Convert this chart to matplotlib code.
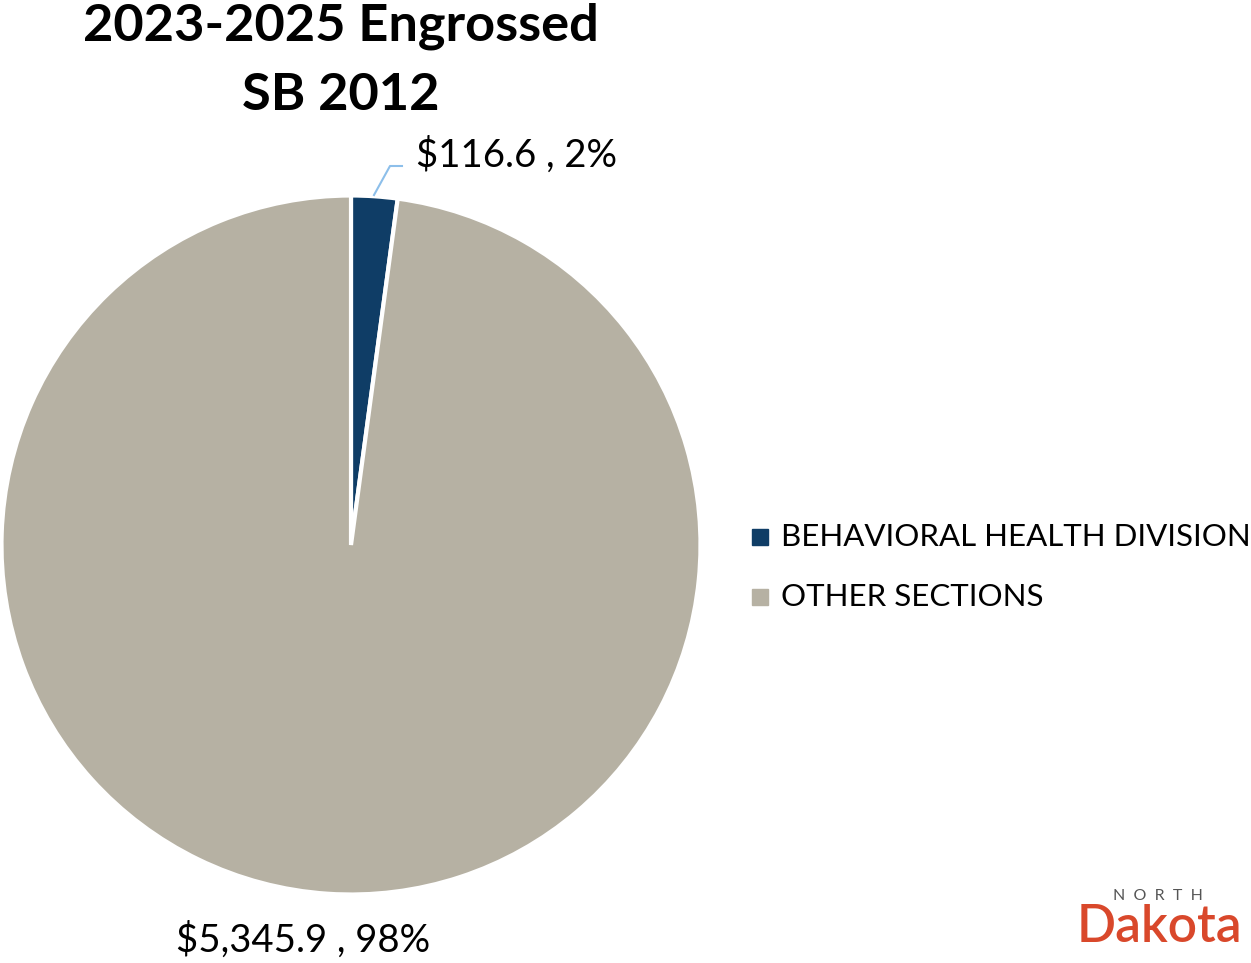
import matplotlib
matplotlib.use("Agg")
import matplotlib.pyplot as plt

categories = ["BEHAVIORAL HEALTH DIVISION", "OTHER SECTIONS"]
values = [116.6, 5345.9]
pct_labels = ["2%", "98%"]
colors = ["#0f3d66", "#b6b1a3"]
title = "2023-2025 Engrossed\nSB 2012"

plt.rcParams['font.family'] = ['Lato', 'DejaVu Sans']

W, H = 1251, 963
fig = plt.figure(figsize=(W / 100, H / 100), dpi=100)
ax = fig.add_axes([0, 0, 1, 1])
cx, cy, r = 351, H - 545, 349.5
wedges, _ = ax.pie(values, colors=colors, startangle=90, counterclock=False,
                   center=(cx, cy), radius=r,
                   wedgeprops=dict(edgecolor="white", linewidth=3))
ax.set_xlim(0, W)
ax.set_ylim(0, H)
ax.set_aspect('equal')
ax.axis('off')

def fmt(v, p):
    return f"${v:,.1f} , {p}"

# small slice label with leader line
ax.plot([374, 390, 402], [H - 195, H - 166, H - 166], color="#8dbfea", lw=1.5)
ax.text(416, H - 155, fmt(values[0], pct_labels[0]), fontsize=27.5,
        ha="left", va="center", color="black")
ax.text(303, H - 940, fmt(values[1], pct_labels[1]), fontsize=27.5,
        ha="center", va="center", color="black")

fig.text(341 / W, 1 - 61 / H, title, fontsize=37.7, fontweight="bold",
         ha="center", va="center", linespacing=1.58)

# legend
for i, (cat, col) in enumerate(zip(categories, colors)):
    y = 537 + 60 * i
    ax.add_patch(plt.Rectangle((752, H - y - 8), 16, 16, color=col))
    ax.text(781, H - y, cat, fontsize=22.5, ha="left", va="center", color="black")

# logo
fig.text(1158 / W, 1 - 896 / H, "N  O  R  T  H", fontsize=11.5, color="#555555",
         ha="center", va="center")
fig.text(1159 / W, 1 - 927 / H, "Dakota", fontsize=37, color="#d9482b",
         ha="center", va="center", fontweight="semibold")

fig.savefig("out.png", dpi=100)
